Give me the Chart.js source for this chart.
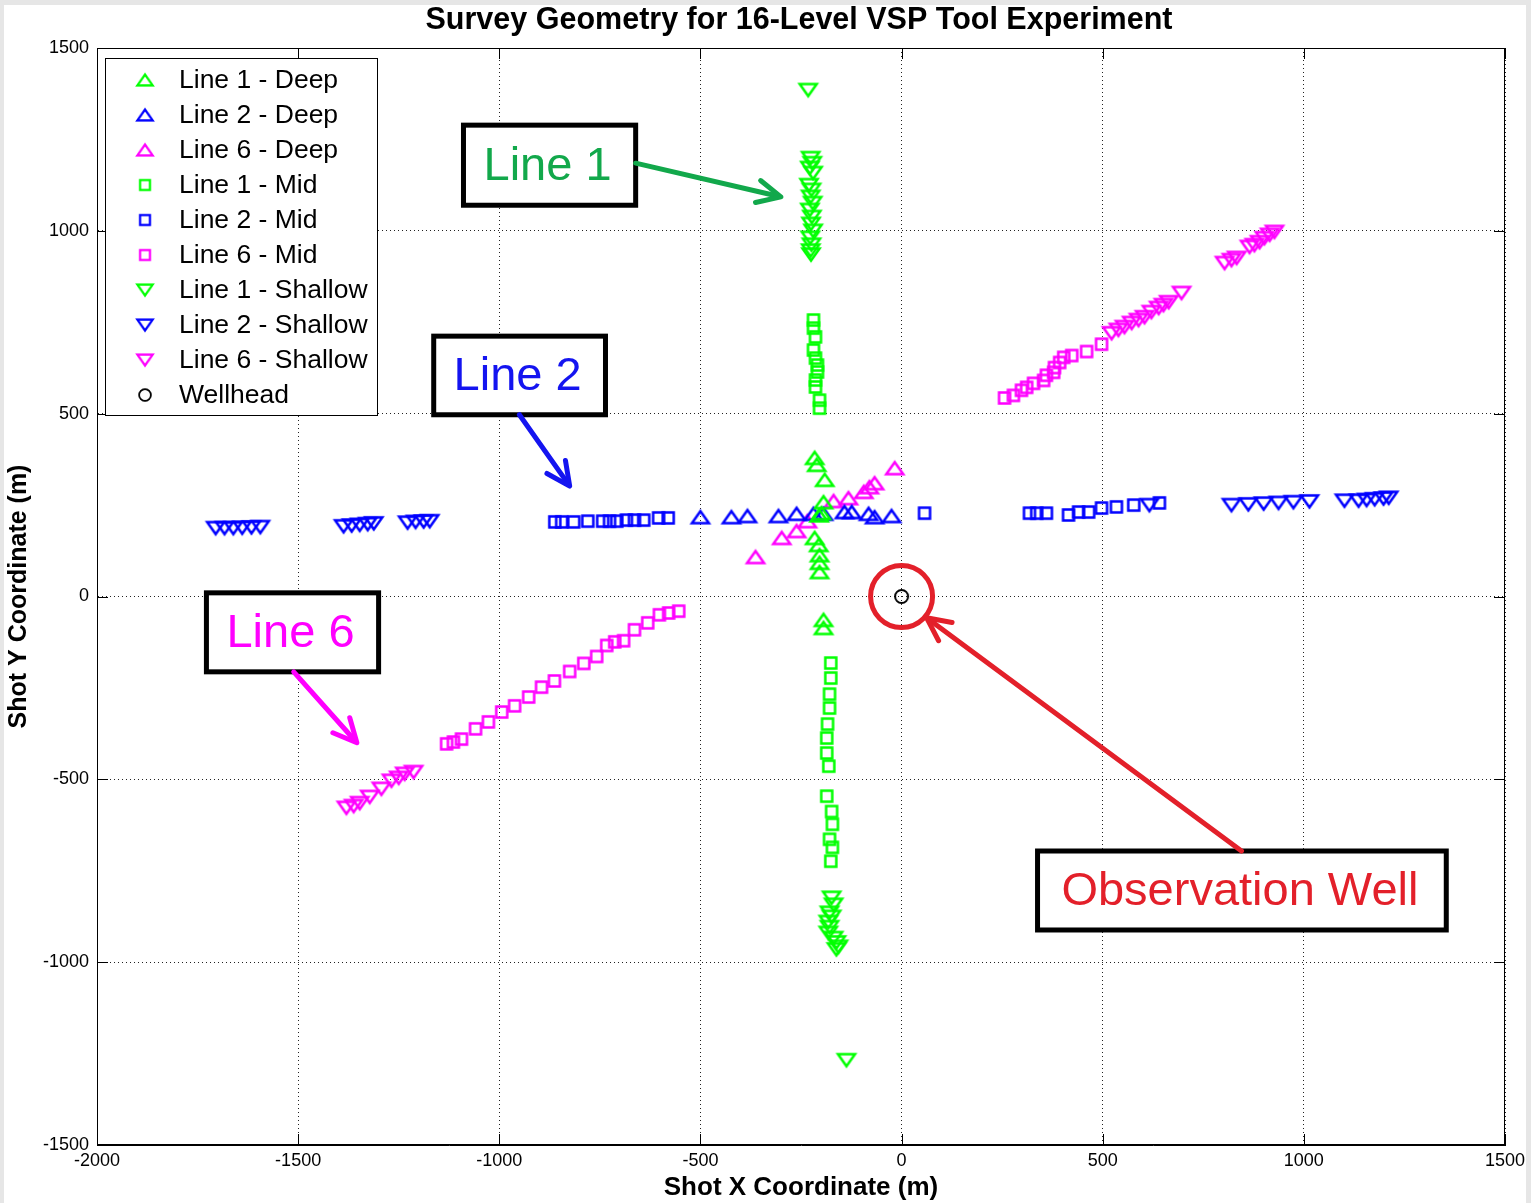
<!DOCTYPE html>
<html><head><meta charset="utf-8">
<script src="https://cdn.jsdelivr.net/npm/chart.js@4/dist/chart.umd.min.js"></script>
<style>
html,body{margin:0;padding:0;background:#e6e6e6;overflow:hidden}
#c{position:absolute;left:0;top:0}
</style></head>
<body>
<canvas id="c" width="1531" height="1203"></canvas>
<script>
// ---------------- DATA ----------------
const seriesNames = ['Line 1 - Deep','Line 2 - Deep','Line 6 - Deep','Line 1 - Mid','Line 2 - Mid','Line 6 - Mid','Line 1 - Shallow','Line 2 - Shallow','Line 6 - Shallow','Wellhead'];

const l1DeepX = [-216,-211,-191,-194,-199,-205,-216,-206,-204,-204,-204,-194,-194];
const l1DeepY = [379,360,319,258,228,222,160,141,113,92,67,-64,-86];

const l2DeepX = [-500,-423,-383,-306,-261,-219,-194,-142,-124,-82,-67,-25];
const l2DeepY = [217,217,220,220,226,226,226,231,231,226,217,220];

const l6DeepX = [-363,-298,-261,-234,-169,-132,-94,-80,-67,-17];
const l6DeepY = [108,160,179,206,261,269,286,299,310,351];

const l1MidX = [-219,-219,-214,-219,-214,-209,-209,-214,-214,-204,-204,
                -176,-176,-179,-179,-184,-186,-186,-181,-186,-174,-172,-179,-172,-176];
const l1MidY = [756,734,710,674,652,633,614,592,573,537,515,
                -182,-223,-267,-305,-349,-387,-428,-464,-546,-588,-623,-664,-686,-724];

const l2MidX = [-862,-845,-815,-780,-743,-726,-708,-684,-664,-641,-604,-580,
                57,318,336,360,415,440,465,497,534,577,641];
const l2MidY = [204,204,204,206,206,206,206,209,209,209,215,215,
                228,228,228,228,223,231,231,242,245,250,256];

const l6MidX = [-1131,-1114,-1094,-1059,-1027,-994,-962,-927,-895,-863,-825,-790,-758,-733,-713,-691,-664,-631,-602,-579,-554,
                256,278,298,311,328,353,360,378,380,393,403,423,460,497];
const l6MidY = [-403,-398,-390,-362,-343,-316,-299,-275,-248,-231,-205,-183,-164,-134,-124,-121,-91,-72,-50,-45,-40,
                543,550,564,572,583,591,605,613,626,640,654,659,670,690];

const l1ShallowX = [-232,-226,-222,-228,-220,-230,-224,-226,-221,-228,-223,-225,-220,-227,-224,-226,-225,
                    -174,-169,-179,-174,-182,-179,-182,-169,-162,-157,-162,-137];
const l1ShallowY = [1385,1199,1185,1172,1158,1125,1112,1093,1076,1057,1038,1019,1000,981,962,946,935,
                    -824,-843,-865,-876,-890,-904,-920,-934,-946,-958,-965,-1268];

const l2ShallowX = [-1705,-1683,-1661,-1639,-1616,-1594,-1387,-1367,-1347,-1327,-1312,-1228,-1208,-1188,-1173,
                    616,820,862,900,937,974,1014,1101,1136,1156,1176,1198,1211];
const l2ShallowY = [187,187,187,188,189,190,192,194,196,198,200,202,204,205,206,
                    250,250,252,254,256,258,260,262,262,264,266,268,270];

const l6ShallowX = [-1380,-1362,-1347,-1322,-1293,-1268,-1250,-1235,-1213,
                    522,539,554,572,589,604,621,639,651,664,696,803,820,833,865,877,890,902,915,927];
const l6ShallowY = [-578,-573,-565,-548,-526,-504,-496,-485,-480,
                    720,729,737,748,756,764,778,789,797,805,830,912,920,926,956,961,969,980,989,997];

const wellX = [0];
const wellY = [0];

const xTicks = [-2000,-1500,-1000,-500,0,500,1000,1500];
const yTicks = [-1500,-1000,-500,0,500,1000,1500];

// ---------------- STYLE ----------------
const GREEN='#00ff00', BLUE='#0000ff', MAG='#ff00ff', BLACK='#000000';
const FONT = "'Liberation Sans', Arial, Helvetica, sans-serif";

function makeMarker(shape, color, w, h, lw){
  const pad = lw + 1;
  const c = document.createElement('canvas');
  c.width = Math.round(w + 2*pad); c.height = Math.round(h + 2*pad);
  const g = c.getContext('2d');
  g.strokeStyle = color; g.lineWidth = lw; g.lineJoin = 'miter';
  const cx = c.width/2, cy = c.height/2;
  g.beginPath();
  if (shape === 'up'){ g.moveTo(cx, cy-h/2); g.lineTo(cx+w/2, cy+h/2); g.lineTo(cx-w/2, cy+h/2); g.closePath(); }
  else if (shape === 'down'){ g.moveTo(cx, cy+h/2); g.lineTo(cx+w/2, cy-h/2); g.lineTo(cx-w/2, cy-h/2); g.closePath(); }
  else if (shape === 'square'){ g.rect(cx-w/2, cy-h/2, w, h); }
  else if (shape === 'circle'){ g.arc(cx, cy, w/2, 0, Math.PI*2); }
  g.stroke();
  return c;
}
const mk = {
  up:   c => makeMarker('up', c, 17, 12, 2.5),
  down: c => makeMarker('down', c, 17, 12, 2.5),
  sq:   c => makeMarker('square', c, 11, 11, 2.5),
  circ: c => makeMarker('circle', c, 13, 13, 2)
};

function pts(xs, ys){ return xs.map((x,i)=>({x:x, y:ys[i]})); }

const seriesDefs = [
  [l1DeepX,l1DeepY,GREEN,'up'],
  [l2DeepX,l2DeepY,BLUE,'up'],
  [l6DeepX,l6DeepY,MAG,'up'],
  [l1MidX,l1MidY,GREEN,'sq'],
  [l2MidX,l2MidY,BLUE,'sq'],
  [l6MidX,l6MidY,MAG,'sq'],
  [l1ShallowX,l1ShallowY,GREEN,'down'],
  [l2ShallowX,l2ShallowY,BLUE,'down'],
  [l6ShallowX,l6ShallowY,MAG,'down'],
  [wellX,wellY,BLACK,'circ']
];

const datasets = seriesDefs.map((d,i)=>{
  const img = mk[d[3]](d[2]);
  return {
    label: seriesNames[i],
    data: pts(d[0], d[1]),
    pointStyle: img,
    pointRadius: 6,
    pointHoverRadius: 6,
    borderColor: d[2],
    backgroundColor: 'transparent',
    showLine: false,
    _markerImg: img
  };
});

// Annotations (positions in data coordinates)
const annotations = [
  {text:'Line 1', color:'#12a84b', x0:-1089, x1:-661, y0:1289, y1:1070, ax0:-661, ay0:1185, ax1:-300, ay1:1093},
  {text:'Line 2', color:'#1414f0', x0:-1163, x1:-736, y0:712, y1:497, ax0:-950, ay0:497, ax1:-825, ay1:302},
  {text:'Line 6', color:'#ff00ff', x0:-1728, x1:-1300, y0:10, y1:-206, ax0:-1511, ay0:-206, ax1:-1354, ay1:-400},
  {text:'Observation Well', color:'#e3202a', x0:338, x1:1354, y0:-696, y1:-912, ax0:845, ay0:-696, ax1:62, ay1:-58}
];

const bgPlugin = {
  id:'bg',
  beforeDraw(chart){
    const ctx = chart.ctx;
    ctx.save();
    ctx.fillStyle = '#e6e6e6';
    ctx.fillRect(0,0,chart.width,chart.height);
    ctx.fillStyle = '#ffffff';
    ctx.fillRect(4,5,1522,1198);
    ctx.restore();
  }
};

function drawArrow(ctx, x0, y0, x1, y1, color){
  const ang = Math.atan2(y1-y0, x1-x0);
  const hl = 26, ha = 0.45;
  ctx.save();
  ctx.strokeStyle = color; ctx.fillStyle = color;
  ctx.lineWidth = 5; ctx.lineCap = 'round'; ctx.lineJoin = 'round';
  ctx.beginPath(); ctx.moveTo(x0,y0); ctx.lineTo(x1 - Math.cos(ang)*6, y1 - Math.sin(ang)*6); ctx.stroke();
  ctx.beginPath();
  ctx.moveTo(x1 - hl*Math.cos(ang-ha), y1 - hl*Math.sin(ang-ha));
  ctx.lineTo(x1, y1);
  ctx.lineTo(x1 - hl*Math.cos(ang+ha), y1 - hl*Math.sin(ang+ha));
  ctx.stroke();
  ctx.restore();
}

const overlayPlugin = {
  id:'overlay',
  afterDraw(chart){
    const ctx = chart.ctx, xs = chart.scales.x, ys = chart.scales.y, a = chart.chartArea;
    ctx.save();
    // frame
    ctx.strokeStyle = '#000'; ctx.lineWidth = 1;
    ctx.strokeRect(Math.round(a.left)+0.5, Math.round(a.top)+0.5, Math.round(a.right-a.left)-1, Math.round(a.bottom-a.top)-1);
    // inner ticks
    ctx.beginPath();
    xTicks.forEach(v=>{
      const px = Math.round(xs.getPixelForValue(v))+0.5;
      ctx.moveTo(px, a.bottom); ctx.lineTo(px, a.bottom-11);
      ctx.moveTo(px, a.top); ctx.lineTo(px, a.top+11);
    });
    yTicks.forEach(v=>{
      const py = Math.round(ys.getPixelForValue(v))+0.5;
      ctx.moveTo(a.left, py); ctx.lineTo(a.left+11, py);
      ctx.moveTo(a.right, py); ctx.lineTo(a.right-11, py);
    });
    ctx.stroke();

    // title
    ctx.fillStyle = '#000';
    ctx.font = "bold 30.5px " + FONT;
    ctx.textAlign = 'center'; ctx.textBaseline = 'middle';
    ctx.fillText('Survey Geometry for 16-Level VSP Tool Experiment', (a.left+a.right)/2 - 2, 21);

    // red circle around wellhead
    const wx = xs.getPixelForValue(0), wy = ys.getPixelForValue(0);
    ctx.strokeStyle = '#e3202a'; ctx.lineWidth = 5;
    ctx.beginPath(); ctx.arc(wx, wy, 31, 0, Math.PI*2); ctx.stroke();

    // annotation boxes + arrows
    annotations.forEach(an=>{
      const bx0 = xs.getPixelForValue(an.x0), bx1 = xs.getPixelForValue(an.x1);
      const by0 = ys.getPixelForValue(an.y0), by1 = ys.getPixelForValue(an.y1);
      ctx.fillStyle = '#fff';
      ctx.fillRect(bx0, by0, bx1-bx0, by1-by0);
      ctx.strokeStyle = '#000'; ctx.lineWidth = 5; ctx.lineJoin = 'miter';
      ctx.strokeRect(bx0, by0, bx1-bx0, by1-by0);
      ctx.fillStyle = an.color;
      ctx.font = "47px " + FONT;
      ctx.textAlign = 'center'; ctx.textBaseline = 'middle';
      ctx.fillText(an.text, (bx0+bx1)/2 - 2, (by0+by1)/2 + 2);
      drawArrow(ctx, xs.getPixelForValue(an.ax0), ys.getPixelForValue(an.ay0),
                     xs.getPixelForValue(an.ax1), ys.getPixelForValue(an.ay1), an.color);
    });

    // legend
    const lx = 105, ly = 58, lw = 272, lh = 357;
    ctx.fillStyle = '#fff'; ctx.fillRect(lx, ly, lw, lh);
    ctx.strokeStyle = '#000'; ctx.lineWidth = 1;
    ctx.strokeRect(lx+0.5, ly+0.5, lw, lh);
    ctx.font = "26.5px " + FONT; ctx.textAlign = 'left'; ctx.textBaseline = 'middle';
    chart.data.datasets.forEach((ds,i)=>{
      const y = 80 + i*35;
      const img = ds._markerImg;
      const s = 0.9;
      ctx.drawImage(img, 145 - img.width*s/2, y - img.height*s/2, img.width*s, img.height*s);
      ctx.fillStyle = '#000';
      ctx.fillText(ds.label, 179, y + 1);
    });
    ctx.restore();
  }
};

new Chart(document.getElementById('c'), {
  type:'scatter',
  data:{ datasets: datasets },
  options:{
    responsive:false,
    animation:false,
    devicePixelRatio:1,
    layout:{ padding:{ top:48, right:26, left:0, bottom:0 } },
    plugins:{ legend:{display:false}, title:{display:false}, tooltip:{enabled:false} },
    scales:{
      x:{
        type:'linear', min:-2000, max:1500,
        afterBuildTicks: s => { s.ticks = xTicks.map(v=>({value:v})); },
        afterFit: s => { s.height = 58; },
        grid:{ color:'#222', lineWidth:1, drawTicks:false },
        border:{ display:true, color:'#000', dash:[1,3] },
        ticks:{ color:'#000', font:{ family:FONT, size:18 }, padding:5, maxRotation:0, autoSkip:false, callback: v => String(v) },
        title:{ display:true, text:'Shot X Coordinate (m)', color:'#000', font:{ family:FONT, size:26, weight:'bold' }, padding:{top:0,bottom:0} }
      },
      y:{
        type:'linear', min:-1500, max:1500,
        afterBuildTicks: s => { s.ticks = yTicks.map(v=>({value:v})); },
        afterFit: s => { s.width = 97; },
        grid:{ color:'#222', lineWidth:1, drawTicks:false },
        border:{ display:true, color:'#000', dash:[1,3] },
        ticks:{ color:'#000', font:{ family:FONT, size:18 }, padding:8, autoSkip:false, callback: v => String(v) },
        title:{ display:true, text:'Shot Y Coordinate (m)', color:'#000', font:{ family:FONT, size:25, weight:'bold' }, padding:{top:4,bottom:0} }
      }
    }
  },
  plugins:[bgPlugin, overlayPlugin]
});
</script>
</body></html>
